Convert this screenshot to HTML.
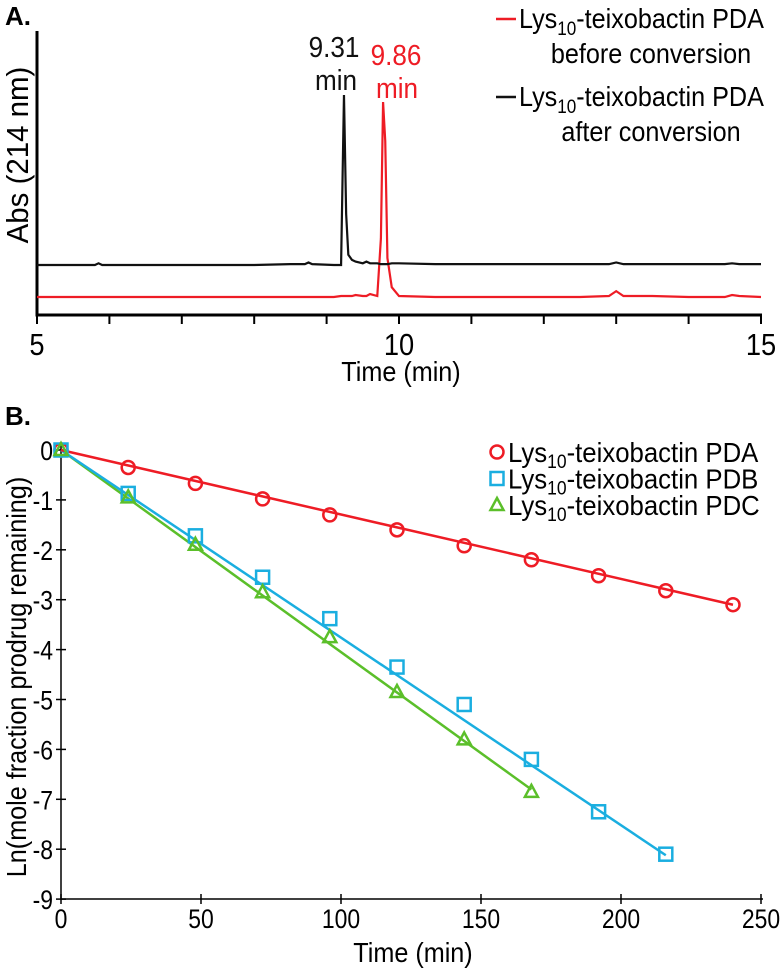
<!DOCTYPE html>
<html><head><meta charset="utf-8"><style>
html,body{margin:0;padding:0;background:#fff;}
svg{display:block;font-family:"Liberation Sans",Arial,sans-serif;}
</style></head><body>
<svg id="fig" width="780" height="970" viewBox="0 0 780 970">
<text x="5" y="25" font-size="26" font-weight="bold">A.</text>
<text x="5" y="425" font-size="26" font-weight="bold">B.</text>
<g id="pa"></g>
<g id="pb"></g>
</svg>
<script>
// ---------- Panel A data ----------
const aTime = [5,5.5,5.8,5.85,5.9,6.5,7,7.5,8,8.5,8.7,8.75,8.8,9.1,9.2,9.22,9.24,9.27,9.3,9.35,9.4,9.5,9.55,9.6,9.7,9.75,9.78,9.81,9.84,9.9,10,10.5,11,11.5,12,12.5,12.9,13.0,13.1,13.5,14,14.5,14.6,14.7,15];
const aAfter = [0.0,0.0,0.0,0.01,0.0,0.0,0.0,0.0,0.0,0.005,0.005,0.015,0.005,0.0,0.0,0.5,1.0,0.3,0.06,0.03,0.02,0.01,0.02,0.01,0.01,0.005,0.005,0.005,0.005,0.01,0.01,0.005,0.005,0.005,0.005,0.005,0.005,0.015,0.005,0.005,0.005,0.005,0.01,0.005,0.005];
const aBefore = [0.0,0.0,0.0,0.0,0.0,0.0,0.0,0.0,0.0,0.0,0.0,0.0,0.0,0.0,0.005,0.005,0.005,0.005,0.005,0.005,0.01,0.005,0.005,0.015,0.005,0.3,1.0,0.8,0.2,0.05,0.005,0.0,0.0,0.0,0.0,0.0,0.005,0.03,0.005,0.005,0.0,0.0,0.01,0.005,0.0];
const aTicks = [5,6,7,8,9,10,11,12,13,14,15];
const aTickLabels = ["5","","","","","10","","","","","15"];
// ---------- Panel B data ----------
const bTime = [0,24,48,72,96,120,144,168,192,216,240];
const bPDA = [0,-0.35,-0.67,-0.98,-1.3,-1.6,-1.92,-2.2,-2.52,-2.82,-3.1];
const bPDB = [0,-0.87,-1.72,-2.55,-3.38,-4.35,-5.1,-6.2,-7.25,-8.1];
const bPDC = [0,-0.95,-1.9,-2.85,-3.75,-4.85,-5.8,-6.85];
const bSlopes = [-0.01292,-0.0376,-0.0405];
const bFitEnd = [240,216,168];
const bXTicks = [0,50,100,150,200,250];
const bYTicks = [0,-1,-2,-3,-4,-5,-6,-7,-8,-9];

const NS="http://www.w3.org/2000/svg";
function mk(parent,tag,attrs,txt){const e=document.createElementNS(NS,tag);for(const k in attrs)e.setAttribute(k,attrs[k]);if(txt!==undefined)e.textContent=txt;parent.appendChild(e);return e;}
function txt(parent,x,y,size,anchor,content,fill,sx,rot){
  const t=mk(parent,'text',{x:0,y:0,'font-size':size,'text-anchor':anchor,fill:fill||'#000',
    transform:`translate(${x},${y})${rot?' rotate(-90)':''} scale(${sx||0.88},1)`},content);
  return t;
}

// Panel A
const pa=document.getElementById('pa');
const ax=t=>37+(t-5)*72.4;
const ayAfter=v=>265-v*(265-95);
const ayBefore=v=>297-v*(297-102);
let l=mk(pa,'line',{x1:37,y1:31,x2:37,y2:315,stroke:'#000','stroke-width':3});

l=mk(pa,'line',{x1:35.5,y1:315,x2:762,y2:315,stroke:'#000','stroke-width':3});

aTicks.forEach((t,i)=>{
  let tk=mk(pa,'line',{x1:ax(t),y1:315,x2:ax(t),y2:324,stroke:'#000','stroke-width':2});
  
  if(aTickLabels[i]){let tl=txt(pa,ax(t),355,31,'middle',aTickLabels[i]);
  }
});
let tt=txt(pa,401,381,28,'middle','Time (min)',null,0.9);

tt=txt(pa,28,155,31,'middle','Abs (214 nm)',null,0.95,true);

let p=mk(pa,'polyline',{points:aTime.map((t,i)=>ax(t)+','+ayBefore(aBefore[i])).join(' '),fill:'none',stroke:'#ee1c25','stroke-width':2.2});

p=mk(pa,'polyline',{points:aTime.map((t,i)=>ax(t)+','+ayAfter(aAfter[i])).join(' '),fill:'none',stroke:'#111','stroke-width':2.2});

[['9.31',334,57,'#111'],['min',336,90,'#111'],['9.86',396,65,'#ee1c25'],['min',397,98,'#ee1c25']].forEach(a=>{
  let t=txt(pa,a[1],a[2],29,'middle',a[0],a[3],0.9);
  
});
function legA(y,col,sub){
  let g=mk(pa,'g',{});
  
  mk(g,'line',{x1:496,y1:y-9,x2:516,y2:y-9,stroke:col,'stroke-width':2.5});
  let t=txt(g,519,y,28,'start','',null,0.9);
  t.innerHTML='Lys<tspan font-size="19" dy="7">10</tspan><tspan dy="-7">-teixobactin PDA</tspan>';
  txt(g,651,y+35,28,'middle',sub,null,0.9);
}
legA(28,'#ee1c25','before conversion');
legA(106,'#111','after conversion');

// Panel B
const pb=document.getElementById('pb');
const bx=t=>61+t*2.8;
const by=v=>450-v*49.9;
l=mk(pb,'line',{x1:61,y1:442,x2:61,y2:899,stroke:'#000','stroke-width':1.5});

l=mk(pb,'line',{x1:61,y1:899,x2:763,y2:899,stroke:'#000','stroke-width':1.5});

bXTicks.forEach(t=>{
  let tk=mk(pb,'line',{x1:bx(t),y1:894,x2:bx(t),y2:904,stroke:'#000','stroke-width':1.5});
  
  let tl=txt(pb,bx(t),928,27,'middle',String(t),null,0.85);
  
});
bYTicks.forEach(v=>{
  let tk=mk(pb,'line',{x1:56,y1:by(v),x2:66,y2:by(v),stroke:'#000','stroke-width':1.5});
  
  let tl=txt(pb,53,by(v)+10,27,'end',String(v),null,0.85);
  
});
tt=txt(pb,413,962,28,'middle','Time (min)',null,0.9);

tt=txt(pb,26,677,28,'middle','Ln(mole fraction prodrug remaining)',null,0.9,true);

const cols=['#ee1c25','#1aaee0','#5bbf2a'];
[2,1,0].forEach(i=>{
  let f=mk(pb,'line',{x1:bx(0),y1:by(0),x2:bx(bFitEnd[i]),y2:by(bSlopes[i]*bFitEnd[i]),stroke:cols[i],'stroke-width':2.5});
  
});
function marker(g,kind,x,y,col){
  let m;
  if(kind==0)m=mk(g,'circle',{cx:x,cy:y,r:6.5,fill:'none',stroke:col,'stroke-width':2.5});
  else if(kind==1)m=mk(g,'rect',{x:x-6.5,y:y-6.5,width:13,height:13,fill:'none',stroke:col,'stroke-width':2.5});
  else m=mk(g,'polygon',{points:`${x},${y-7} ${x+6.5},${y+5} ${x-6.5},${y+5}`,fill:'none',stroke:col,'stroke-width':2.5});
  return m;
}
[bPDA,bPDB,bPDC].forEach((s,i)=>{
  s.forEach((v,j)=>{
    let m=marker(pb,i,bx(bTime[j]),by(v),cols[i]);
    
  });
});
['PDA','PDB','PDC'].forEach((n,i)=>{
  const y=452+i*26.5;
  let g=mk(pb,'g',{});
  
  marker(g,i,497,y,cols[i]);
  let t=txt(g,508,y+10,28,'start','',null,0.92);
  t.innerHTML='Lys<tspan font-size="19" dy="6">10</tspan><tspan dy="-6">-teixobactin '+n+'</tspan>';
});
</script>
</body></html>
